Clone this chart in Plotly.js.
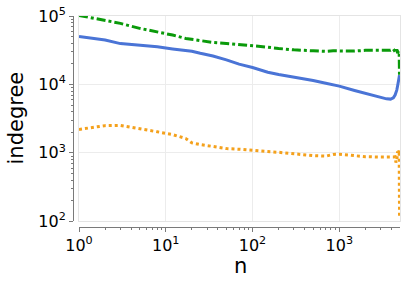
<!DOCTYPE html>
<html>
<head>
<meta charset="utf-8">
<script src="https://cdn.plot.ly/plotly-3.0.1.min.js"></script>
<style>
  html, body { margin: 0; padding: 0; background: #fff; }
  #chart { width: 407px; height: 285px; }
</style>
</head>
<body>
<div id="chart"></div>
<script>
// ---- data ----
var nValues = [1, 2, 3, 5, 8, 12, 17, 20, 25, 35, 50, 70, 100, 150, 200, 300, 500, 700, 850, 1000,
               1500, 2000, 3000, 3500, 3900, 4200, 4400, 4500, 4600, 4700, 4800, 4900, 4950];

var blueSeries = [50000, 44500, 39500, 37500, 35500, 33000, 31500, 30500, 28500, 26000, 22900, 19800,
                  17700, 15100, 14000, 12900, 11400, 10400, 9900, 9440, 8170, 7380, 6450, 6160, 6100,
                  6370, 7000, 7500, 8260, 9500, 11600, 13000, 13700];

var orangeSeries = [2200, 2500, 2520, 2280, 2030, 1850, 1620, 1400, 1320, 1240, 1155, 1130, 1080, 1045,
                    1020, 960, 910, 895, 950, 955, 920, 880, 870, 865, 875, 870, 880, 720, 780, 1050,
                    950, 1100, 120];

var greenSeries = [102000, 85500, 78000, 66000, 58800, 52700, 47000, 45600, 43500, 41100, 39800, 38500,
                   36800, 35000, 33500, 32000, 31000, 30500, 31000, 31000, 30700, 31500, 31500, 31000,
                   31500, 33000, 30500, 29000, 32500, 28500, 30500, 31000, 12500];

var xTickVals = [1, 10, 100, 1000];
var xTickText = ['10<sup>0</sup>', '10<sup>1</sup>', '10<sup>2</sup>', '10<sup>3</sup>'];
var yTickVals = [100, 1000, 10000, 100000];
var yTickText = ['10<sup>2</sup>', '10<sup>3</sup>', '10<sup>4</sup>', '10<sup>5</sup>'];

var xTitle = 'n';
var yTitle = 'indegree';

// minor tick positions (2..9 within each decade)
function minorTicks(fromExp, toExp) {
  var out = [];
  for (var k = fromExp; k < toExp; k++) {
    for (var m = 2; m <= 9; m++) out.push(m * Math.pow(10, k));
  }
  return out;
}

var FONT = 'DejaVu Sans, sans-serif';
var W = 407, H = 285;
var mL = 73, mR = 7, mT = 16, mB = 58;
var pw = W - mL - mR, ph = H - mT - mB;
var offX = 6 / pw, offY = 5.7 / ph;

var traces = [
  { x: nValues, y: blueSeries, type: 'scatter', mode: 'lines',
    line: { color: '#4a74d6', width: 3 }, hoverinfo: 'skip', showlegend: false },
  { x: nValues, y: orangeSeries, type: 'scatter', mode: 'lines',
    line: { color: '#f4a11c', width: 3, dash: 'dot' }, hoverinfo: 'skip', showlegend: false },
  { x: nValues, y: greenSeries, type: 'scatter', mode: 'lines',
    line: { color: '#0a9a0a', width: 3, dash: 'dashdot' }, hoverinfo: 'skip', showlegend: false },
  { x: [], y: [], xaxis: 'x2', yaxis: 'y2', type: 'scatter', mode: 'lines',
    hoverinfo: 'skip', showlegend: false }
];

var xRange = [0, 3.7];
var yRange = [2, 5];

var layout = {
  width: W, height: H,
  margin: { l: mL, r: mR, t: mT, b: mB, pad: 0 },
  paper_bgcolor: '#ffffff', plot_bgcolor: '#ffffff',
  font: { family: FONT, color: '#000000' },
  showlegend: false,
  xaxis: {
    type: 'log', range: xRange, domain: [offX, 1],
    tickmode: 'array', tickvals: xTickVals,
    showticklabels: false, ticks: '',
    showgrid: true, gridcolor: '#ececec', gridwidth: 1,
    showline: true, mirror: true, linecolor: '#e4e4e4', linewidth: 1,
    zeroline: false
  },
  yaxis: {
    type: 'log', range: yRange, domain: [offY, 1],
    tickmode: 'array', tickvals: yTickVals,
    showticklabels: false, ticks: '',
    showgrid: true, gridcolor: '#ececec', gridwidth: 1,
    showline: true, mirror: true, linecolor: '#e4e4e4', linewidth: 1,
    zeroline: false
  },
  xaxis2: {
    type: 'log', range: xRange, domain: [offX, 1],
    overlaying: 'x', anchor: 'free', position: 0, side: 'bottom',
    tickmode: 'array', tickvals: xTickVals, ticktext: xTickText,
    ticks: 'outside', ticklen: 4, tickwidth: 1, tickcolor: '#7a7a7a',
    tickfont: { family: FONT, size: 16, color: '#000000' },
    minor: { tickmode: 'array', tickvals: minorTicks(0, 4).filter(function (v) { return v < 5000; }),
             ticks: 'outside', ticklen: 2, tickwidth: 1, tickcolor: '#7a7a7a', showgrid: false },
    showgrid: false, showline: true, linecolor: '#7a7a7a', linewidth: 1, zeroline: false
  },
  yaxis2: {
    type: 'log', range: yRange, domain: [offY, 1],
    overlaying: 'y', anchor: 'free', position: 0, side: 'left',
    tickmode: 'array', tickvals: yTickVals, ticktext: yTickText,
    ticks: 'outside', ticklen: 4, tickwidth: 1, tickcolor: '#7a7a7a',
    tickfont: { family: FONT, size: 16, color: '#000000' },
    minor: { tickmode: 'array', tickvals: minorTicks(2, 5),
             ticks: 'outside', ticklen: 2, tickwidth: 1, tickcolor: '#7a7a7a', showgrid: false },
    showgrid: false, showline: true, linecolor: '#7a7a7a', linewidth: 1, zeroline: false
  },
  annotations: [
    { text: xTitle, xref: 'paper', yref: 'paper', x: (240 - mL) / pw, y: (mT + ph - 266) / ph,
      xanchor: 'center', yanchor: 'middle', showarrow: false,
      font: { family: FONT, size: 21, color: '#000000' } },
    { text: yTitle, xref: 'paper', yref: 'paper', x: (16 - mL) / pw, y: (mT + ph - 118.5) / ph,
      xanchor: 'center', yanchor: 'middle', textangle: -90, showarrow: false,
      font: { family: FONT, size: 21, color: '#000000' } }
  ]
};

Plotly.newPlot('chart', traces, layout, { staticPlot: true, displayModeBar: false });
</script>
</body>
</html>
